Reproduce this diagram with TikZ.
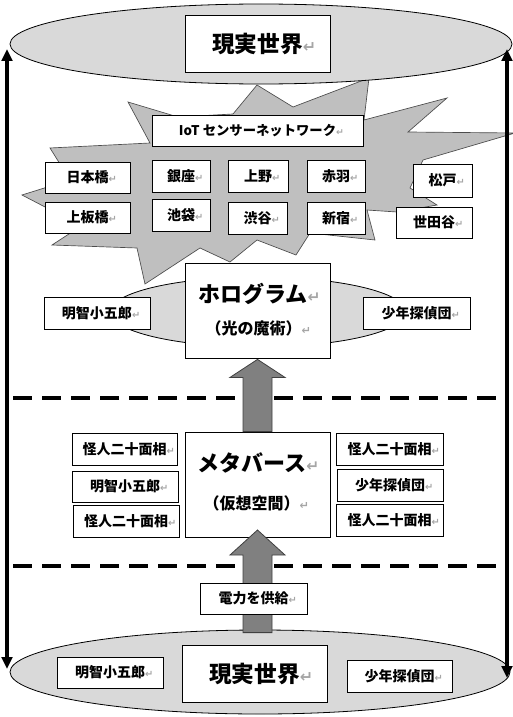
\documentclass[tikz,border=0pt]{standalone}
\usepackage{fontspec}
\usepackage{graphicx}
\setmainfont{Noto Sans CJK JP}
\newfontfamily\retfont{DejaVu Sans}
\usetikzlibrary{arrows.meta,shapes.geometric,calc}
\definecolor{ellgray}{HTML}{D9D9D9}
\definecolor{stargray}{HTML}{BFBFBF}
\definecolor{arrgray}{HTML}{808080}
\definecolor{retgray}{HTML}{A6A6A6}
\newcommand\retm{{\retfont\color{retgray}\scalebox{0.7}{↵}}}
\newcommand\lbl[1]{\hphantom{\retm}#1\retm}
\newcommand\lp{\kern-.3em（}
\newcommand\rp{）}
\tikzset{
  bx/.style 2 args={draw, fill=white, line width=0.6pt, inner sep=0pt,
    minimum width=#1*0.75pt, minimum height=#2*0.75pt,
    font=\bfseries\fontsize{10.5}{12}\selectfont},
  ell/.style 2 args={ellipse, draw, fill=ellgray, line width=0.6pt, inner sep=0pt,
    minimum width=#1*0.75pt, minimum height=#2*0.75pt},
  bigtxt/.style={inner sep=0pt, font=\bfseries\fontsize{16.5}{19}\selectfont},
  subtxt/.style={inner sep=0pt, font=\bfseries\fontsize{12}{15}\selectfont},
  starshape/.style={draw=black!70, fill=stargray, line width=0.5pt, line join=miter},
  blockarrow/.style={draw=black!75, fill=arrgray, line width=0.6pt},
  vert/.style={line width=2.6pt, {Triangle[width=8pt,length=9pt]}-{Triangle[width=8pt,length=9pt]}},
  dashline/.style={line width=2.6pt, dash pattern=on 14.25pt off 7.5pt}
}
\begin{document}
\begin{tikzpicture}[x=0.75pt,y=-0.75pt]
\useasboundingbox (0,0) rectangle (513,717);
% hologram ellipse
\node[ell={296}{70}] (holoell) at (258,312) {};
% starburst
\draw[starshape] (128,102) -- (178,117) -- (233,114) -- (257,85) -- (293,107) -- (369,78)
  -- (364,120) -- (447,98) -- (408,132) -- (515,133) -- (423,160) -- (410,188) -- (437,205)
  -- (397,212) -- (367,210) -- (375,240) -- (310,233) -- (296,255) -- (257,240) -- (230,262)
  -- (200,248) -- (145,284) -- (137,248) -- (52,245) -- (72,232) -- (70,220) -- (22,195)
  -- (70,180) -- (50,148) -- (150,143) -- cycle;
% top ellipse
\node[ell={502}{80}] (topell) at (261,44) {};
\node[bx={145}{57}, font=\bfseries\fontsize{17}{20}\selectfont] (toptitle) at (257.5,43.5) {\lbl{現実世界}};
% IoT boxes
\node[bx={211}{31}, font=\bfseries\fontsize{10}{12}\selectfont] (iot) at (257.5,130.5) {\lbl{IoT センサーネットワーク}};
\node[bx={85}{31}] (nihonbashi) at (87.5,177.5) {\lbl{日本橋}};
\node[bx={85}{31}] (kamiitabashi) at (87.5,217.5) {\lbl{上板橋}};
\node[bx={58}{32}] (ginza) at (181,176) {\lbl{銀座}};
\node[bx={58}{32}] (ikebukuro) at (181,215) {\lbl{池袋}};
\node[bx={60}{32}] (ueno) at (258,176) {\lbl{上野}};
\node[bx={59}{32}] (shibuya) at (257.5,218) {\lbl{渋谷}};
\node[bx={58}{32}] (akabane) at (336,176) {\lbl{赤羽}};
\node[bx={58}{32}] (shinjuku) at (336,218) {\lbl{新宿}};
\node[bx={59}{33}] (matsudo) at (442.5,180.5) {\lbl{松戸}};
\node[bx={76}{31}] (setagaya) at (434,222.5) {\lbl{世田谷}};
% hologram level
\node[bx={106}{32}] (akechiA) at (97,313) {\lbl{明智小五郎}};
\node[bx={107}{32}] (shonenA) at (416.5,313) {\lbl{少年探偵団}};
\node[bx={145}{95}] (holo) at (257.5,310.5) {};
\node[bigtxt] (holotitle) at (253,294) {\lbl{ホログラム}};
\node[subtxt] (holosub) at (256,328) {\lbl{\lp 光の魔術\rp}};
% dashed lines
\coordinate (d1l) at (13,398); \coordinate (d1r) at (503,398);
\draw[dashline] (d1l) -- (d1r);
\coordinate (d2l) at (13,566); \coordinate (d2r) at (503,566);
\draw[dashline] (d2l) -- (d2r);
% metaverse level
\node[bx={145}{105}] (meta) at (257.5,484.5) {};
\node[bigtxt] (metatitle) at (252,463) {\lbl{メタバース}};
\node[subtxt] (metasub) at (254,503) {\lbl{\lp 仮想空間\rp}};
\node[bx={105}{32}] (kaijinL1) at (124.5,449) {\lbl{怪人二十面相}};
\node[bx={106}{31}] (akechiB) at (125,486.5) {\lbl{明智小五郎}};
\node[bx={106}{32}] (kaijinL2) at (126,521) {\lbl{怪人二十面相}};
\node[bx={107}{32}] (kaijinR1) at (389.5,449) {\lbl{怪人二十面相}};
\node[bx={106}{32}] (shonenB) at (390,485) {\lbl{少年探偵団}};
\node[bx={107}{32}] (kaijinR2) at (389.5,520) {\lbl{怪人二十面相}};
% block arrow 1 (metaverse -> hologram)
\draw[blockarrow] ($(meta.north)+(-14.5,0)$) -- ($(holo.south)+(-14.5,19)$) -- ($(holo.south)+(-27.5,19)$)
  -- ($(holo.south)+(0,1)$) -- ($(holo.south)+(27.5,19)$) -- ($(holo.south)+(14.5,19)$)
  -- ($(meta.north)+(14.5,0)$) -- cycle;
% bottom ellipse
\node[ell={500}{84}] (botell) at (260,672) {};
% block arrow 2 (real world -> metaverse)
\coordinate (tip2) at (257.5,530);
\draw[blockarrow] ($(botell.north)+(-17,3)$) -- ($(tip2)+(-14.5,25)$) -- ($(tip2)+(-27.5,25)$)
  -- (tip2) -- ($(tip2)+(27.5,25)$) -- ($(tip2)+(14.5,25)$) -- ($(botell.north)+(12,3)$) -- cycle;
\node[bx={107}{31}] (power) at (253.5,598.5) {\lbl{電力を供給}};
% bottom level
\node[bx={106}{31}] (akechiC) at (110,672.5) {\lbl{明智小五郎}};
\node[bx={145}{57}, font=\bfseries\fontsize{17}{20}\selectfont] (bottitle) at (254.5,673.5) {\lbl{現実世界}};
\node[bx={105}{32}] (shonenC) at (399.5,676) {\lbl{少年探偵団}};
% vertical arrows
\coordinate (lt) at (7,49); \coordinate (lb) at (7,669);
\coordinate (rt) at (507,49); \coordinate (rb) at (507,678);
\draw[vert] (lt) -- (lb);
\draw[vert] (rt) -- (rb);
\end{tikzpicture}
\end{document}
